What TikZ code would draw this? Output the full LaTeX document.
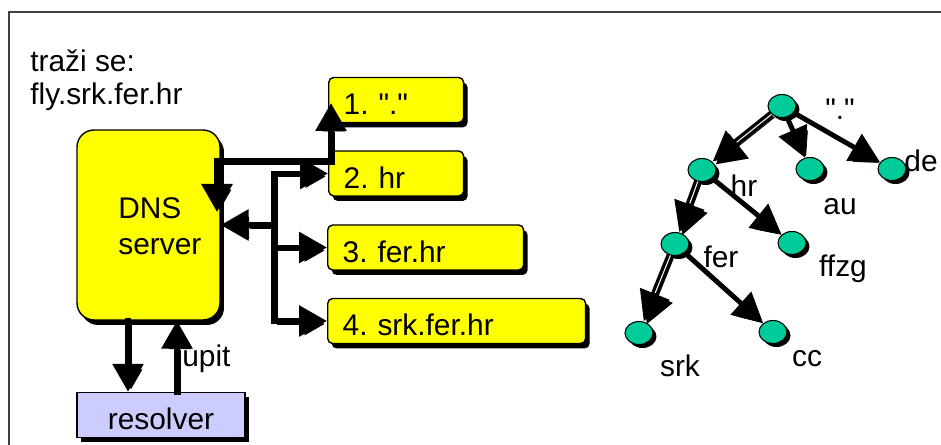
\documentclass[tikz,border=0pt]{standalone}
\usepackage{fontspec}
\setmainfont{Liberation Sans}
\usepackage{xcolor}
\usetikzlibrary{arrows.meta, shapes.geometric, shadows}
\frenchspacing

\definecolor{zoneyellow}{RGB}{255,255,0}
\definecolor{resblue}{RGB}{204,204,255}
\definecolor{sitegreen}{RGB}{0,204,153}
\newcommand{\rootname}{\textquotedbl.\textquotedbl}

\begin{document}
\begin{tikzpicture}[x=0.02cm, y=-0.02cm,
        lbl/.style={font=\fontsize{17}{19}\selectfont, inner sep=0pt},
        shade/.style={drop shadow={shadow xshift=0.08cm, shadow yshift=-0.1cm, fill=black, opacity=1}},
        zone/.style={lbl, shade, draw, line width=0.8pt, fill=zoneyellow, rounded corners=0.1cm, anchor=west, align=left, text width=#1, inner xsep=0.3cm, text height=0.75cm, text depth=0.15cm},
        server/.style={shade, draw, line width=0.8pt, fill=zoneyellow, rounded corners=0.34cm, minimum width=2.86cm, minimum height=3.8cm},
        client/.style={lbl, shade, draw, line width=0.8pt, fill=resblue, minimum width=3.36cm, text height=0.75cm, text depth=0.15cm},
        site/.style={ellipse, draw, line width=0.6pt, fill=sitegreen, minimum width=0.56cm, minimum height=0.46cm, inner sep=0pt, drop shadow={shadow xshift=0.07cm, shadow yshift=-0.07cm, fill=black, opacity=1}},
        echo/.style={preaction={draw, transform canvas={xshift=0.06cm, yshift=-0.06cm}}},
        flow/.style={echo, line width=3.4pt, line cap=rect},
        flowto/.style={flow, -{Triangle[length=0.56cm, width=0.6cm]}},
        flowboth/.style={flow, {Triangle[length=0.56cm, width=0.6cm]}-{Triangle[length=0.56cm, width=0.6cm]}},
        branch/.style={echo, line width=2.8pt, -{Triangle[length=0.6cm, width=0.6cm]}},
        trail/.style={branch, line width=4.4pt, postaction={draw=white, line width=0.6pt, -, shorten >=0.62cm}}]
        \useasboundingbox (0,0) rectangle (941,445);

        % Frame
        \draw[line width=1pt, black!75] (9,445) |- (941,12);

        % Query
        \node[lbl, anchor=base west, align=left] (query) at (30,105) {traži se:\\fly.srk.fer.hr};

        % DNS server and resolver
        \node[server] (dns) at (148.5,225) {};
        \node[lbl, anchor=base west, align=left] (dnstxt) at (118,255) {DNS\\[2pt]server};
        \node[client] (res) at (161,415) {resolver};

        % Name servers
        \node[zone=2.1cm] (b1) at (328,100) {1. \rootname};
        \node[zone=2.1cm] (b2) at (328,173.5) {2. hr};
        \node[zone=3.32cm] (b3) at (327,247.5) {3. fer.hr};
        \node[zone=4.56cm] (b4) at (327,321) {4. srk.fer.hr};

        % Queries
        \coordinate (ret1) at (217,212);
        \coordinate (fork1) at (217,161);
        \coordinate (ask1) at (331,103);
        \coordinate (bus) at (274,0);
        \draw[flowboth] (ret1) -- (fork1) -| (ask1);
        \draw[flow] (b2.west -| bus) -- (b4.west -| bus);
        \draw[flowto] (b2.west -| bus) -- (b2.west);
        \draw[flowto] (b3.west -| bus) -- (b3.west);
        \draw[flowto] (b4.west -| bus) -- (b4.west);
        \draw[flowto] (dns.east -| bus) -- (dns.east);
        \draw[flowto] ([xshift=-0.41cm]dns.south) -- ([xshift=-0.41cm]dns.south |- res.north);
        \draw[flowto] ([xshift=0.57cm]dns.south |- res.north) -- ([xshift=0.57cm]dns.south);
        \node[lbl, anchor=base west] (upit) at (182,367) {upit};

        % Tree
        \node[site] (root) at (782,106) {};
        \node[site] (hr) at (702,170) {};
        \node[site] (au) at (810,169) {};
        \node[site] (de) at (892,169) {};
        \node[site] (fer) at (675,244) {};
        \node[site] (ffzg) at (792,243) {};
        \node[site] (srk) at (639,333) {};
        \node[site] (cc) at (773,332) {};
        \draw[trail] (root) -- (hr);
        \draw[branch] (root) -- (au);
        \draw[branch] (root) -- (de);
        \draw[trail] (hr) -- (fer);
        \draw[branch] (hr) -- (ffzg);
        \draw[trail] (fer) -- (srk);
        \draw[branch] (fer) -- (cc);

        % Tree labels
        \node[lbl, anchor=base] (rootlbl) at (840,120) {\rootname};
        \node[lbl, anchor=base] (hrlbl) at (744,197) {hr};
        \node[lbl, anchor=base] (aulbl) at (840,215) {au};
        \node[lbl, anchor=base] (delbl) at (921,172) {de};
        \node[lbl, anchor=base] (ferlbl) at (721,268) {fer};
        \node[lbl, anchor=base] (ffzglbl) at (843,277) {ffzg};
        \node[lbl, anchor=base] (srklbl) at (680,377) {srk};
        \node[lbl, anchor=base] (cclbl) at (807,367) {cc};
\end{tikzpicture}
\end{document}
